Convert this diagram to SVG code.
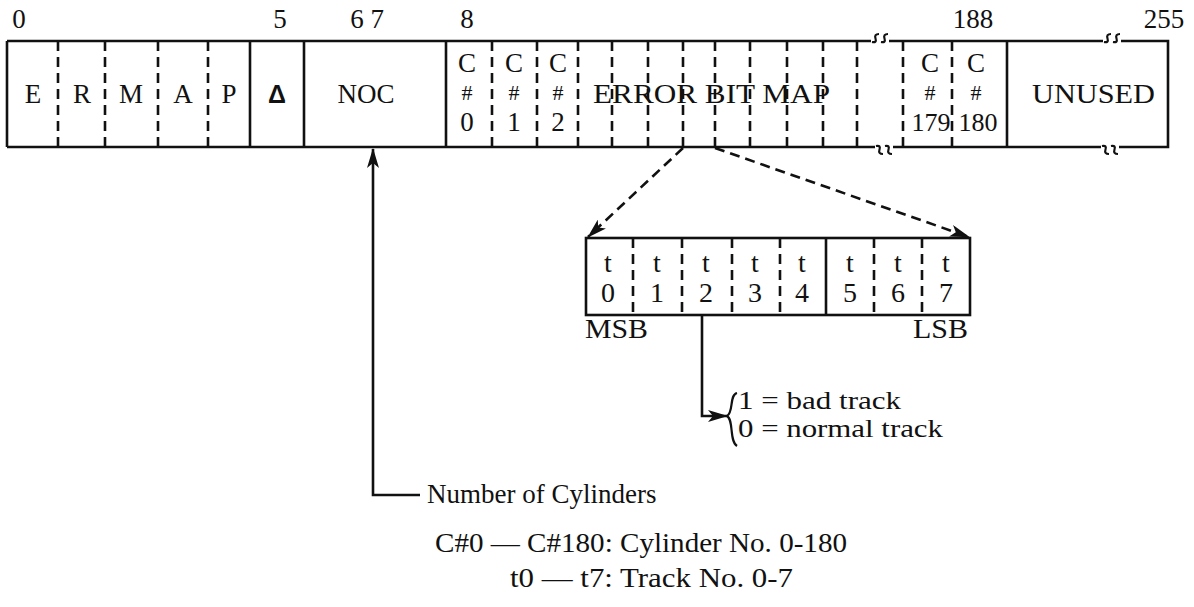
<svg xmlns="http://www.w3.org/2000/svg" xmlns:xlink="http://www.w3.org/1999/xlink" width="1194" height="607" viewBox="0 0 1194 607">
<style>
text{font-family:"Liberation Serif","Times New Roman",serif;font-size:27px;fill:#111}
.m{text-anchor:middle}
.s{stroke:#111;stroke-width:2.6;fill:none}
.d{stroke:#111;stroke-width:2.6;fill:none;stroke-dasharray:10 6}
.brk{stroke:#111;stroke-width:2.2;fill:none}
.h{font-size:22px}
.tb{font-size:28px}
.v{font-size:25px}
.n{font-size:28px}
</style>
<defs>
<marker id="ah" viewBox="0 0 20 12" refX="19" refY="6" markerWidth="20" markerHeight="12" markerUnits="userSpaceOnUse" orient="auto">
<path d="M0,0 L20,6 L0,12 L5,6 Z" fill="#111"/>
</marker>
<g id="bk"><path class="brk" d="M-8,2 Q-3,3 -4.5,-1.5 T-1,-6 M1,2 Q6,3 4.5,-1.5 T8,-6"/></g>
</defs>
<rect width="1194" height="607" fill="#fff"/>
<g id="indices">
<text x="19" y="28" class="m">0</text>
<text x="280" y="28" class="m">5</text>
<text x="367" y="28" class="m">6 7</text>
<text x="467" y="28" class="m">8</text>
<text x="973" y="28" class="m">188</text>
<text x="1164" y="28" class="m">255</text>
</g>
<g id="record">
<path class="s" d="M7,41 H871 M889,41 H1103 M1121,41 H1168 V147 H1119 M1101,147 H893 M875,147 H7 Z"/>
<path class="s" d="M7,41 V147 M250,41 V147 M304,41 V147 M446,41 V147 M1007,41 V147"/>
<use xlink:href="#bk" x="880" y="40"/>
<use xlink:href="#bk" x="1112" y="40"/>
<use xlink:href="#bk" x="884" y="148" transform="translate(0,296) scale(1,-1)"/>
<use xlink:href="#bk" x="1110" y="148" transform="translate(0,296) scale(1,-1)"/>
<path class="d" d="M58,41 V147 M105,41 V147 M158,41 V147 M208,41 V147"/>
<path class="d" d="M492,41 V147 M537,41 V147 M578,41 V147 M612,41 V147 M648,41 V147 M683,41 V147 M715,41 V147 M750,41 V147 M787,41 V147 M823,41 V147 M857,41 V147 M903,41 V147 M952,41 V147"/>
</g>
<g id="header-fields">
<text x="33" y="103" class="m">E</text>
<text x="82" y="103" class="m">R</text>
<text x="131" y="103" class="m">M</text>
<text x="183" y="103" class="m">A</text>
<text x="229" y="103" class="m">P</text>
<text x="277" y="103" class="m" style="font-family:'Liberation Sans',Arial,sans-serif;font-weight:bold;font-size:25px">Δ</text>
<text x="366" y="103" class="m">NOC</text>
</g>
<g id="cylinders">
<text x="467" y="72" class="m">C</text><text x="467" y="100" class="m h">#</text><text x="467" y="131" class="m">0</text>
<text x="514" y="72" class="m">C</text><text x="514" y="100" class="m h">#</text><text x="514" y="131" class="m">1</text>
<text x="558" y="72" class="m">C</text><text x="558" y="100" class="m h">#</text><text x="558" y="131" class="m">2</text>
<text x="593" y="103" textLength="237" lengthAdjust="spacingAndGlyphs">ERROR BIT MAP</text>
<text x="930" y="72" class="m">C</text><text x="930" y="100" class="m h">#</text><text x="931" y="131" class="m" style="font-size:26px">179</text>
<text x="976" y="72" class="m">C</text><text x="976" y="100" class="m h">#</text><text x="978" y="131" class="m" style="font-size:26px">180</text>
<text x="1032" y="103" textLength="123" lengthAdjust="spacingAndGlyphs">UNUSED</text>
</g>
<g id="track-byte">
<rect class="s" x="586" y="238" width="384" height="77"/>
<path class="d" d="M633,238 V315 M682,238 V315 M732,238 V315 M780,238 V315 M874,238 V315 M922,238 V315"/>
<path class="s" d="M826,238 V315"/>
<text x="608" y="272" class="m tb">t</text><text x="608" y="302" class="m tb">0</text>
<text x="657" y="272" class="m tb">t</text><text x="657" y="302" class="m tb">1</text>
<text x="706" y="272" class="m tb">t</text><text x="706" y="302" class="m tb">2</text>
<text x="755" y="272" class="m tb">t</text><text x="755" y="302" class="m tb">3</text>
<text x="802" y="272" class="m tb">t</text><text x="802" y="302" class="m tb">4</text>
<text x="850" y="272" class="m tb">t</text><text x="850" y="302" class="m tb">5</text>
<text x="898" y="272" class="m tb">t</text><text x="898" y="302" class="m tb">6</text>
<text x="946" y="272" class="m tb">t</text><text x="946" y="302" class="m tb">7</text>
<text x="585" y="338" textLength="63" lengthAdjust="spacingAndGlyphs">MSB</text>
<text x="913" y="338" textLength="55" lengthAdjust="spacingAndGlyphs">LSB</text>
</g>
<g id="track-values">
<path class="brk" d="M737,393 C729,395 734,412 727,416 C734,420 729,441 737,446"/>
<text x="738" y="409" class="v" textLength="163" lengthAdjust="spacingAndGlyphs">1 = bad track</text>
<text x="738" y="437" class="v" textLength="205" lengthAdjust="spacingAndGlyphs">0 = normal track</text>
</g>
<g id="notes">
<text x="427" y="503">Number of Cylinders</text>
<text x="435" y="552" class="n" textLength="412" lengthAdjust="spacingAndGlyphs">C#0 — C#180: Cylinder No. 0-180</text>
<text x="510" y="587" class="n" textLength="283" lengthAdjust="spacingAndGlyphs">t0 — t7: Track No. 0-7</text>
</g>
<g id="connectors">
<path class="d" d="M683,148 L588,237" marker-end="url(#ah)"/>
<path class="d" d="M715,148 L969,237" marker-end="url(#ah)"/>
<path class="s" d="M420,495 H373 V149" marker-end="url(#ah)"/>
<path class="s" d="M702,315 V416 H727" marker-end="url(#ah)"/>
</g>
</svg>
